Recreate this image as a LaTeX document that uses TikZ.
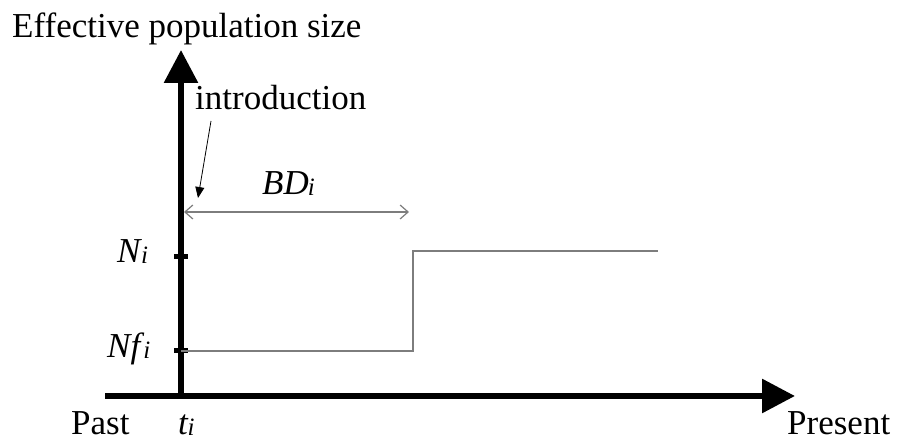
\documentclass[tikz,border=0pt]{standalone}
\usepackage{fontspec}
\setmainfont{Liberation Serif}
\usetikzlibrary{arrows.meta}
\definecolor{stepgray}{RGB}{125,125,125}
\newcommand{\lbl}[2]{\textit{#1}\kern-1pt\raisebox{-1pt}{\fontsize{25}{25}\selectfont\itshape #2}}
\begin{document}
\begin{tikzpicture}[x=1pt,y=-1pt,
  txt/.style={font=\fontsize{35}{35}\selectfont, inner sep=0pt, anchor=base west},
  axis/.style={line width=6pt, -{Triangle[length=33pt,width=33pt]}},
  tick/.style={line width=5pt},
  stepline/.style={draw=stepgray, line width=1.5pt},
  span/.style={draw=stepgray, line width=1.2pt, {Straight Barb[length=8pt,width=14pt]}-{Straight Barb[length=8pt,width=14pt]}},
  pointer/.style={line width=0.8pt, -{Triangle[length=11pt,width=9pt]}}]
\useasboundingbox (0,0) rectangle (898,443);
% axes
\coordinate (origin) at (181,398);
\coordinate (ytop) at (181,50);
\coordinate (xleft) at (105,396);
\coordinate (xright) at (795,396);
\draw[axis] (origin) -- (ytop);
\draw[axis] (xleft) -- (xright);
% ticks on the vertical axis
\coordinate (nhi) at (181,257);
\coordinate (nlo) at (181,351);
\draw[tick] (174,257) -- (188,257);
\draw[tick] (174,351) -- (188,351);
% population size over time
\coordinate (jumpa) at (413,351);
\coordinate (jumpb) at (413,251);
\coordinate (stepend) at (658,251);
\draw[stepline] (nlo) -- (jumpa) -- (jumpb) -- (stepend);
% bottleneck duration
\coordinate (bda) at (184,212);
\coordinate (bdb) at (409,212);
\draw[span] (bda) -- (bdb);
% labels
\node[txt] (title) at (12,38) {Effective population size};
\node[txt] (intro) at (195,110) {introduction};
\node[txt] (bd) at (262,195) {\lbl{BD}{i}};
\node[txt] (ni) at (117,263) {\lbl{N}{i}};
\node[txt] (nfi) at (107,358) {\lbl{Nf}{i}};
\node[txt] (past) at (71,435) {Past};
\node[txt] (ti) at (178,435) {\lbl{t}{i}};
\node[txt] (present) at (787,435) {Present};
\coordinate (introtip) at (198,198);
\draw[pointer] (211,121) -- (introtip);
\end{tikzpicture}
\end{document}
